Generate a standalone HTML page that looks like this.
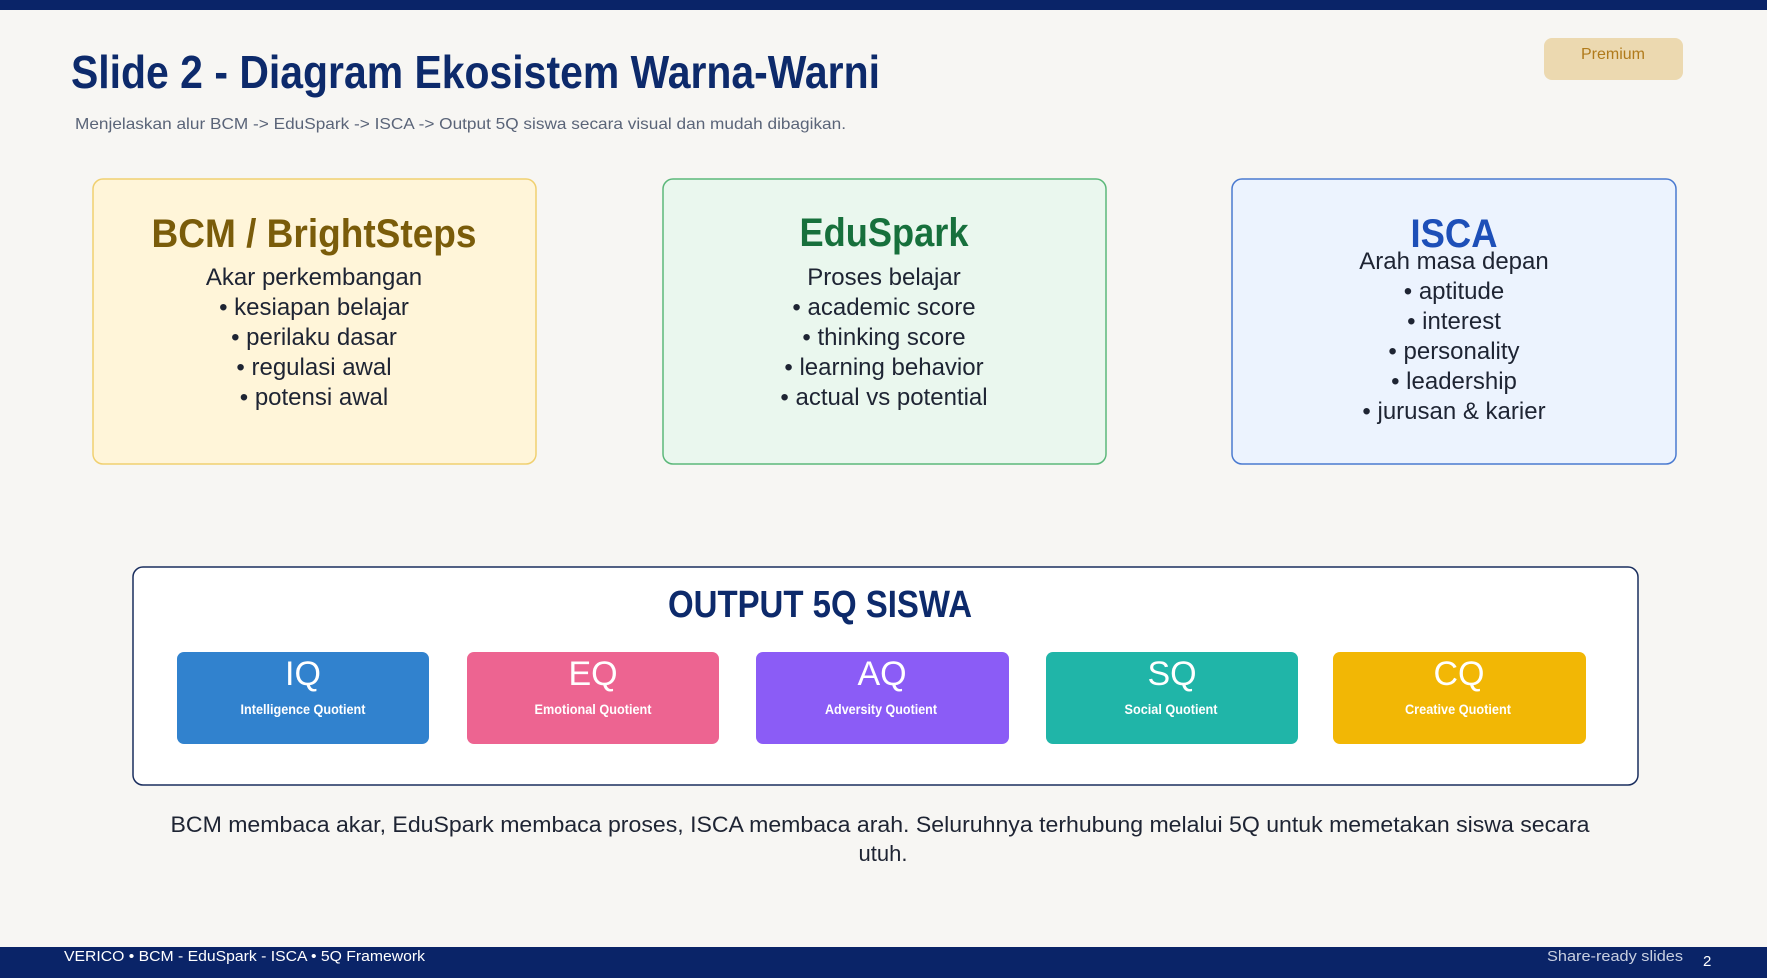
<!DOCTYPE html>
<html><head><meta charset="utf-8"><style>
html,body{margin:0;padding:0;background:#f7f6f3;}
svg{display:block;}
text{font-family:"Liberation Sans",sans-serif;}
</style></head><body>
<svg width="1767" height="978" viewBox="0 0 1767 978" xmlns="http://www.w3.org/2000/svg">
<rect x="0" y="0" width="1767" height="978" fill="#f7f6f3"/>
<rect x="0" y="0" width="1767" height="10" fill="#0a2468"/>
<text x="71" y="88" font-size="46" font-weight="bold" fill="#0d2a6b" textLength="809" lengthAdjust="spacingAndGlyphs">Slide 2 - Diagram Ekosistem Warna-Warni</text>
<text x="75" y="129" font-size="16" fill="#5a6478" textLength="771" lengthAdjust="spacingAndGlyphs">Menjelaskan alur BCM -&gt; EduSpark -&gt; ISCA -&gt; Output 5Q siswa secara visual dan mudah dibagikan.</text>
<rect x="1544" y="38" width="139" height="42" rx="8" fill="#ecd9b0"/>
<text x="1613" y="59" font-size="16" fill="#b07a1a" text-anchor="middle">Premium</text>

<!-- Card 1 -->
<rect x="93" y="179" width="443" height="285" rx="10" fill="#fff5d9" stroke="#f0d070" stroke-width="1.5"/>
<text x="314" y="247" font-size="40" font-weight="bold" fill="#7a5c0a" text-anchor="middle" textLength="325" lengthAdjust="spacingAndGlyphs">BCM / BrightSteps</text>
<g font-size="24" fill="#1e2433" text-anchor="middle">
<text x="314" y="285">Akar perkembangan</text>
<text x="314" y="315">• kesiapan belajar</text>
<text x="314" y="345">• perilaku dasar</text>
<text x="314" y="375">• regulasi awal</text>
<text x="314" y="405">• potensi awal</text>
</g>

<!-- Card 2 -->
<rect x="663" y="179" width="443" height="285" rx="10" fill="#eaf7ee" stroke="#5cb87a" stroke-width="1.5"/>
<text x="884" y="246" font-size="40" font-weight="bold" fill="#17703c" text-anchor="middle" textLength="169" lengthAdjust="spacingAndGlyphs">EduSpark</text>
<g font-size="24" fill="#1e2433" text-anchor="middle">
<text x="884" y="285">Proses belajar</text>
<text x="884" y="315">• academic score</text>
<text x="884" y="345">• thinking score</text>
<text x="884" y="375">• learning behavior</text>
<text x="884" y="405">• actual vs potential</text>
</g>

<!-- Card 3 -->
<rect x="1232" y="179" width="444" height="285" rx="10" fill="#ecf3fe" stroke="#4a7ad0" stroke-width="1.5"/>
<text x="1454" y="247" font-size="40" font-weight="bold" fill="#1d4fb8" text-anchor="middle" textLength="87" lengthAdjust="spacingAndGlyphs">ISCA</text>
<g font-size="24" fill="#1e2433" text-anchor="middle">
<text x="1454" y="269">Arah masa depan</text>
<text x="1454" y="299">• aptitude</text>
<text x="1454" y="329">• interest</text>
<text x="1454" y="359">• personality</text>
<text x="1454" y="389">• leadership</text>
<text x="1454" y="419">• jurusan &amp; karier</text>
</g>

<!-- Output box -->
<rect x="133" y="567" width="1505" height="218" rx="10" fill="#ffffff" stroke="#1a2e5e" stroke-width="1.5"/>
<text x="820" y="617" font-size="38" font-weight="bold" fill="#0d2a6b" text-anchor="middle" textLength="304" lengthAdjust="spacingAndGlyphs">OUTPUT 5Q SISWA</text>

<rect x="177" y="652" width="252" height="92" rx="7" fill="#3182ce"/>
<rect x="467" y="652" width="252" height="92" rx="7" fill="#ed6491"/>
<rect x="756" y="652" width="253" height="92" rx="7" fill="#8b5cf6"/>
<rect x="1046" y="652" width="252" height="92" rx="7" fill="#20b5a8"/>
<rect x="1333" y="652" width="253" height="92" rx="7" fill="#f2b705"/>
<g font-size="34" fill="#ffffff" text-anchor="middle">
<text x="303" y="685">IQ</text>
<text x="593" y="685">EQ</text>
<text x="882" y="685">AQ</text>
<text x="1172" y="685">SQ</text>
<text x="1459" y="685">CQ</text>
</g>
<g font-size="14" font-weight="bold" fill="#ffffff" text-anchor="middle">
<text x="303" y="714" textLength="125" lengthAdjust="spacingAndGlyphs">Intelligence Quotient</text>
<text x="593" y="714" textLength="117" lengthAdjust="spacingAndGlyphs">Emotional Quotient</text>
<text x="881" y="714" textLength="112" lengthAdjust="spacingAndGlyphs">Adversity Quotient</text>
<text x="1171" y="714" textLength="93" lengthAdjust="spacingAndGlyphs">Social Quotient</text>
<text x="1458" y="714" textLength="106" lengthAdjust="spacingAndGlyphs">Creative Quotient</text>
</g>

<text x="880" y="832" font-size="22" fill="#1e2433" text-anchor="middle" textLength="1419" lengthAdjust="spacingAndGlyphs">BCM membaca akar, EduSpark membaca proses, ISCA membaca arah. Seluruhnya terhubung melalui 5Q untuk memetakan siswa secara</text>
<text x="883" y="861" font-size="22" fill="#1e2433" text-anchor="middle">utuh.</text>

<rect x="0" y="947" width="1767" height="31" fill="#0a2468"/>
<text x="64" y="961" font-size="15" fill="#ffffff" textLength="361" lengthAdjust="spacingAndGlyphs">VERICO • BCM - EduSpark - ISCA • 5Q Framework</text>
<text x="1547" y="961" font-size="15" fill="#c8cfe0" textLength="136" lengthAdjust="spacingAndGlyphs">Share-ready slides</text>
<text x="1703" y="966" font-size="15" fill="#ffffff">2</text>
</svg>
</body></html>
